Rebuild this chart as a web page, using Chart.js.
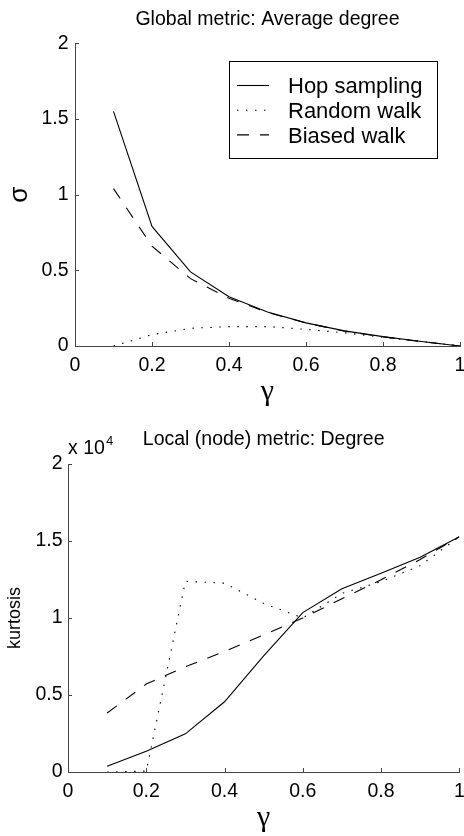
<!DOCTYPE html>
<html>
<head>
<meta charset="utf-8">
<script src="https://cdn.jsdelivr.net/npm/chart.js@4.4.1/dist/chart.umd.min.js"></script>
<style>
  body { margin: 0; background: #fff; }
  .panel { position: absolute; left: 0; width: 464px; height: 418px; }
</style>
</head>
<body>
<div class="panel" style="top:0"><canvas id="avgDegree" width="464" height="418"></canvas></div>
<div class="panel" style="top:418px"><canvas id="nodeDegree" width="464" height="418"></canvas></div>
<script>
const gammaValues = [0.1, 0.2, 0.3, 0.4, 0.5, 0.6, 0.7, 0.8, 0.9, 1.0];
const seriesNames = ['Hop sampling', 'Random walk', 'Biased walk'];

// global metric: sigma of average degree
const avgHop = [1.55, 0.79, 0.49, 0.325, 0.225, 0.153, 0.1, 0.062, 0.03, 0];
const avgRandom = [0, 0.075, 0.117, 0.128, 0.128, 0.11, 0.087, 0.058, 0.03, 0];
const avgBiased = [1.04, 0.66, 0.445, 0.315, 0.222, 0.152, 0.098, 0.06, 0.029, 0];

// local metric: kurtosis of node degree
const kurtHop = [370, 1340, 2480, 4560, 7540, 10350, 11900, 12900, 13950, 15280];
const kurtRandom = [0, 60, 12380, 12260, 10950, 10000, 11600, 12360, 13400, 15280];
const kurtBiased = [3830, 5710, 6830, 7830, 8900, 10000, 11250, 12480, 13800, 15280];

const avgTicksY = [0, 0.5, 1, 1.5, 2];
const kurtTicksY = [0, 5000, 10000, 15000, 20000];
const ticksX = [0, 0.2, 0.4, 0.6, 0.8, 1];

const FONT = "'Liberation Sans', Arial, Helvetica, sans-serif";
const GREEK_FONT = "'Liberation Serif', 'Times New Roman', serif";
const AXIS_COLOR = '#444';
Chart.defaults.font.family = FONT;
Chart.defaults.color = '#000';

const lineStyles = [
    {borderDash: []},
    {borderDash: [1.5, 7.5]},
    {borderDash: [12, 11]}
];

function toPoints(values) {
    return values.map((v, i) => ({x: gammaValues[i], y: v}));
}

function makeDatasets(seriesList) {
    return seriesList.map((values, i) => ({
        label: seriesNames[i],
        data: toPoints(values),
        borderColor: '#000',
        borderWidth: 1.1,
        borderDash: lineStyles[i].borderDash,
        pointRadius: 0,
        tension: 0,
        fill: false
    }));
}

function shortNumber(v) {
    return String(Math.round(v * 100) / 100);
}

// matlab style ticks pointing into the plot
const inwardTicks = {
    id: 'inwardTicks',
    afterDraw(chart) {
        const {ctx, chartArea} = chart;
        ctx.save();
        ctx.strokeStyle = AXIS_COLOR;
        ctx.lineWidth = 1;
        ctx.beginPath();
        chart.scales.x.ticks.forEach(t => {
            const px = Math.round(chart.scales.x.getPixelForValue(t.value)) + 0.5;
            ctx.moveTo(px, chartArea.bottom);
            ctx.lineTo(px, chartArea.bottom - 4);
        });
        chart.scales.y.ticks.forEach(t => {
            const py = Math.round(chart.scales.y.getPixelForValue(t.value)) + 0.5;
            ctx.moveTo(chartArea.left, py);
            ctx.lineTo(chartArea.left + 4, py);
        });
        ctx.stroke();
        ctx.restore();
    }
};

// legend drawn in a framed box inside the plot
const boxLegend = {
    id: 'boxLegend',
    afterDraw(chart, args, opts) {
        if (!opts.display) return;
        const {ctx, chartArea} = chart;
        const x = Math.round(chartArea.right - opts.offsetRight - opts.width) + 0.5;
        const y = Math.round(chartArea.top + opts.offsetTop) + 0.5;
        ctx.save();
        ctx.fillStyle = '#fff';
        ctx.fillRect(x, y, opts.width, opts.height);
        ctx.strokeStyle = '#000';
        ctx.lineWidth = 1;
        ctx.strokeRect(x, y, opts.width, opts.height);
        ctx.font = opts.fontSize + 'px ' + FONT;
        ctx.fillStyle = '#000';
        ctx.textBaseline = 'alphabetic';
        chart.data.datasets.forEach((ds, i) => {
            const cy = y + opts.firstRow + i * opts.rowGap;
            ctx.setLineDash(ds.borderDash || []);
            ctx.lineWidth = ds.borderWidth;
            ctx.beginPath();
            ctx.moveTo(x + 7.5, cy);
            ctx.lineTo(x + 39.5, cy);
            ctx.stroke();
            ctx.setLineDash([]);
            ctx.fillText(ds.label, x + 58.5, cy + opts.fontSize * 0.36);
        });
        ctx.restore();
    }
};

// "x 10^4" exponent above the y axis
const axisExponent = {
    id: 'axisExponent',
    afterDraw(chart, args, opts) {
        if (!opts.display) return;
        const {ctx, chartArea} = chart;
        ctx.save();
        ctx.fillStyle = '#000';
        ctx.textBaseline = 'alphabetic';
        ctx.font = '19.5px ' + FONT;
        const base = 'x 10';
        ctx.fillText(base, chartArea.left, chartArea.top - 10);
        const w = ctx.measureText(base).width;
        ctx.font = '12.5px ' + FONT;
        ctx.fillText(opts.exponent, chartArea.left + w + 1.5, chartArea.top - 19);
        ctx.restore();
    }
};

function makeChart(canvasId, cfg) {
    return new Chart(document.getElementById(canvasId), {
        type: 'line',
        data: {datasets: makeDatasets(cfg.series)},
        options: {
            responsive: false,
            animation: false,
            devicePixelRatio: 1,
            layout: {padding: {left: 0, right: cfg.padRight, top: 0, bottom: 0}},
            plugins: {
                legend: {display: false},
                tooltip: {enabled: false},
                title: {
                    display: true,
                    text: cfg.title,
                    fullSize: false,
                    color: '#000',
                    font: {size: 19.5, weight: 'normal'},
                    padding: {top: cfg.titleTop, bottom: cfg.titleBottom}
                },
                boxLegend: cfg.legend,
                axisExponent: cfg.exponent
            },
            scales: {
                x: {
                    type: 'linear',
                    min: 0,
                    max: 1,
                    afterBuildTicks: scale => { scale.ticks = ticksX.map(v => ({value: v})); },
                    afterFit: scale => {
                        scale.height = cfg.xHeight;
                        scale.paddingLeft = 0;
                        scale.paddingRight = 0;
                    },
                    grid: {display: true, drawOnChartArea: false, drawTicks: false},
                    border: {display: true, color: AXIS_COLOR, width: 1},
                    ticks: {padding: 8, color: '#000', font: {size: 19.5}, maxRotation: 0,
                            callback: v => shortNumber(v)},
                    title: {
                        display: true,
                        text: 'γ',
                        color: '#000',
                        font: {family: GREEK_FONT, size: 30},
                        padding: {top: 0, bottom: cfg.gammaBottom}
                    }
                },
                y: {
                    type: 'linear',
                    min: cfg.yTicks[0],
                    max: cfg.yTicks[cfg.yTicks.length - 1],
                    afterBuildTicks: scale => { scale.ticks = cfg.yTicks.map(v => ({value: v})); },
                    afterFit: scale => {
                        scale.width = cfg.yWidth;
                        scale.paddingTop = 0;
                        scale.paddingBottom = 0;
                    },
                    grid: {display: true, drawOnChartArea: false, drawTicks: false},
                    border: {display: true, color: AXIS_COLOR, width: 1},
                    ticks: {
                        padding: cfg.yTickPad,
                        color: '#000',
                        font: {size: 19.5},
                        callback: v => shortNumber(v / cfg.yScale)
                    },
                    title: {
                        display: true,
                        text: cfg.yLabel,
                        color: '#000',
                        font: {size: cfg.yLabelSize},
                        padding: {top: cfg.yLabelPad, bottom: 0}
                    }
                }
            }
        },
        plugins: [inwardTicks, boxLegend, axisExponent]
    });
}

makeChart('avgDegree', {
    series: [avgHop, avgRandom, avgBiased],
    title: 'Global metric: Average degree',
    titleTop: 8.3,
    titleBottom: 11.6,
    padRight: 4,
    xHeight: 72,
    yWidth: 75,
    yTicks: avgTicksY,
    yScale: 1,
    yTickPad: 6.5,
    yLabel: 'σ',
    yLabelSize: 26,
    yLabelPad: 4.5,
    gammaBottom: 8,
    legend: {display: true, offsetRight: 23, offsetTop: 17.7, width: 208, height: 97,
             firstRow: 24, rowGap: 24.7, fontSize: 22},
    exponent: {display: false}
});

makeChart('nodeDegree', {
    series: [kurtHop, kurtRandom, kurtBiased],
    title: 'Local (node) metric: Degree',
    titleTop: 10.3,
    titleBottom: 12.3,
    padRight: 4.7,
    xHeight: 64,
    yWidth: 68,
    yTicks: kurtTicksY,
    yScale: 10000,
    yTickPad: 5.5,
    yLabel: 'kurtosis',
    yLabelSize: 18,
    yLabelPad: 4.7,
    gammaBottom: 0,
    legend: {display: false},
    exponent: {display: true, exponent: '4'}
});
</script>
</body>
</html>
